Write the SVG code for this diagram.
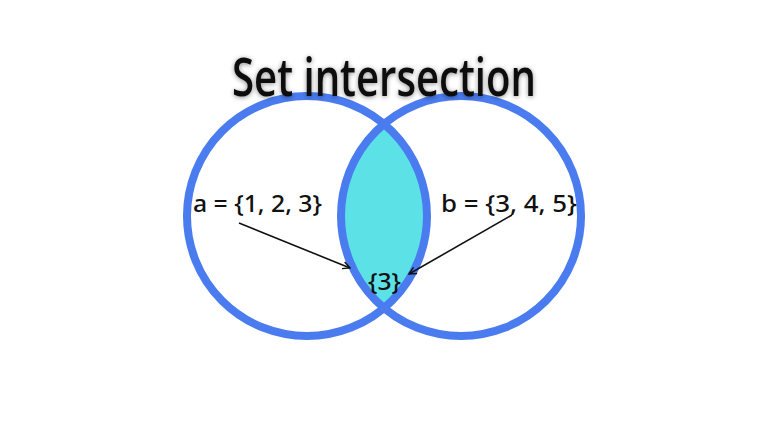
<svg xmlns="http://www.w3.org/2000/svg" width="768" height="432" viewBox="0 0 768 432">
<style>
.ring{fill:none;stroke:#4a7cf0;stroke-width:8}
.lbl{font-family:"Noto Sans","DejaVu Sans",sans-serif;font-size:24px;font-weight:500;fill:#111}
.conn{stroke:#111;stroke-width:1.6;fill:none;marker-end:url(#ah)}
</style>
<defs>
<marker id="ah" viewBox="0 0 10 10" refX="9" refY="5" markerWidth="9" markerHeight="9" markerUnits="userSpaceOnUse" orient="auto">
<path d="M1,1 L9,5 L1,9" fill="none" stroke="#111" stroke-width="1.6"/>
</marker>
<clipPath id="clipA"><circle cx="307" cy="216" r="120"/></clipPath>
<filter id="sh" x="-10%" y="-30%" width="120%" height="160%">
<feGaussianBlur in="SourceAlpha" stdDeviation="2.5"/>
<feOffset dx="0" dy="1" result="b"/>
<feComponentTransfer><feFuncA type="linear" slope="0.45"/></feComponentTransfer>
<feMerge><feMergeNode/><feMergeNode in="SourceGraphic"/></feMerge>
</filter>
</defs>
<rect width="768" height="432" fill="#ffffff"/>
<g id="lens">
<circle cx="461" cy="216" r="120" fill="#5ce1e6" clip-path="url(#clipA)"/>
</g>
<g id="setA"><circle class="ring" cx="307" cy="216" r="120"/></g>
<g id="setB"><circle class="ring" cx="461" cy="216" r="120"/></g>
<g id="title"><text x="384" y="96" text-anchor="middle" font-family="'Open Sans','DejaVu Sans',sans-serif" font-size="52" font-weight="600" fill="#111" textLength="304" lengthAdjust="spacingAndGlyphs" filter="url(#sh)">Set intersection</text></g>
<g id="labelA"><text class="lbl" x="193" y="212" textLength="129" lengthAdjust="spacingAndGlyphs">a = {1, 2, 3}</text></g>
<g id="labelB"><text class="lbl" x="441" y="212" textLength="136" lengthAdjust="spacingAndGlyphs">b = {3, 4, 5}</text></g>
<g id="result"><text class="lbl" x="368" y="290" textLength="33" lengthAdjust="spacingAndGlyphs">{3}</text></g>
<g id="connectors">
<line class="conn" x1="239" y1="223" x2="350" y2="268"/>
<line class="conn" x1="512" y1="215" x2="409" y2="274"/>
</g>
</svg>
